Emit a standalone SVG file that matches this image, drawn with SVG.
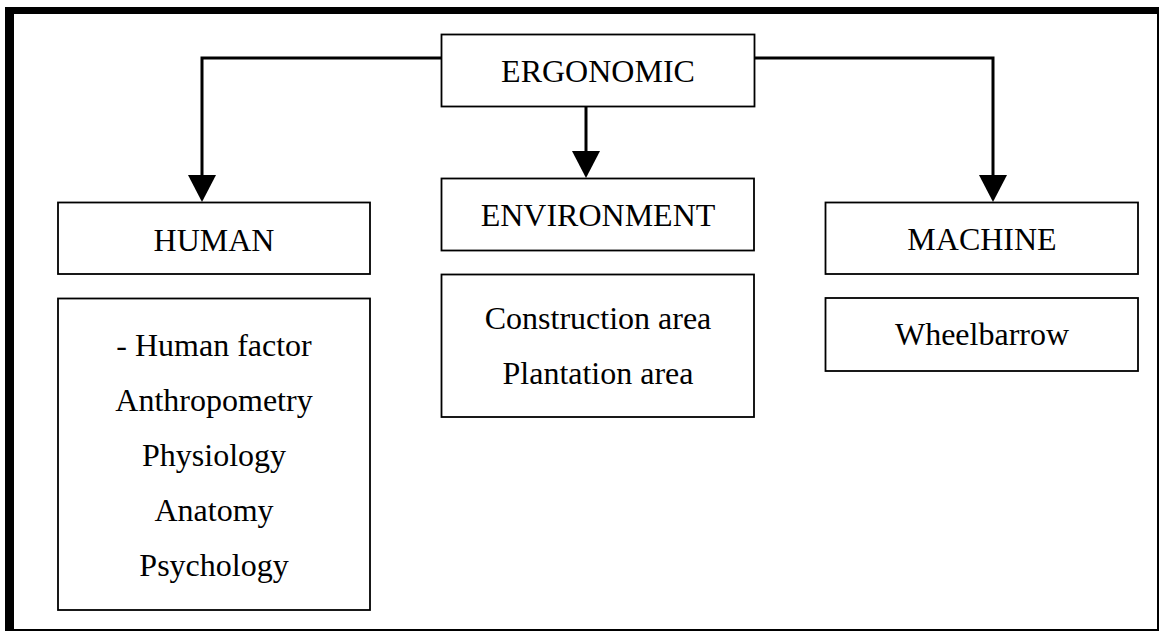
<svg xmlns="http://www.w3.org/2000/svg" width="1160" height="633" viewBox="0 0 1160 633">
<style>
.box{fill:#fff;stroke:#000;stroke-width:1.8}
.t{font-family:"Liberation Serif","Times New Roman",serif;font-size:32px;fill:#000;text-anchor:middle}
.con{fill:none;stroke:#000;stroke-width:3}
</style>
<defs>
<marker id="ah" markerUnits="userSpaceOnUse" markerWidth="28" markerHeight="28" viewBox="0 0 27 28" refX="0" refY="14" orient="auto">
<path d="M0,0 L27,14 L0,28 z" fill="#000"/>
</marker>
</defs>
<rect x="0" y="0" width="1160" height="633" fill="#fff"/>
<g id="frame">
<rect x="5" y="7" width="1154" height="7" fill="#000"/>
<rect x="5" y="7" width="9" height="624" fill="#000"/>
<rect x="1157" y="7" width="2" height="624" fill="#000"/>
<rect x="5" y="629" width="1154" height="2" fill="#000"/>
</g>
<g id="connectors">
<path class="con" d="M441,58 H202 V175" marker-end="url(#ah)"/>
<path class="con" d="M586,107 V151" marker-end="url(#ah)"/>
<path class="con" d="M755,58 H993 V175" marker-end="url(#ah)"/>
</g>
<g id="ergonomic">
<rect class="box" x="441.5" y="34.5" width="313" height="72"/>
<text class="t" x="598" y="82">ERGONOMIC</text>
</g>
<g id="human">
<rect class="box" x="58" y="202.5" width="312" height="71.5"/>
<text class="t" x="214" y="251">HUMAN</text>
</g>
<g id="human-list">
<rect class="box" x="58" y="298.5" width="312" height="311.5"/>
<text class="t" x="214" y="356">- Human factor</text>
<text class="t" x="214" y="411">Anthropometry</text>
<text class="t" x="214" y="466">Physiology</text>
<text class="t" x="214" y="521">Anatomy</text>
<text class="t" x="214" y="576">Psychology</text>
</g>
<g id="environment">
<rect class="box" x="441.5" y="178.5" width="312.5" height="72"/>
<text class="t" x="598" y="226">ENVIRONMENT</text>
</g>
<g id="environment-list">
<rect class="box" x="441.5" y="274.5" width="312.5" height="142.5"/>
<text class="t" x="598" y="329">Construction area</text>
<text class="t" x="598" y="384">Plantation area</text>
</g>
<g id="machine">
<rect class="box" x="825.5" y="202.5" width="312.5" height="71.5"/>
<text class="t" x="982" y="250">MACHINE</text>
</g>
<g id="machine-list">
<rect class="box" x="825.5" y="298" width="312.5" height="73"/>
<text class="t" x="982" y="345">Wheelbarrow</text>
</g>
</svg>
